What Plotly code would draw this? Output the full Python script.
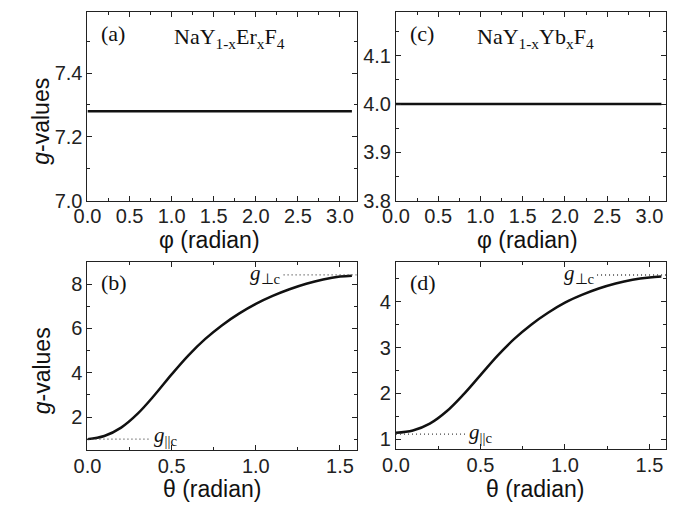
import plotly.graph_objects as go
from plotly.subplots import make_subplots

# ---------------- data ----------------
phi_a = [0.0, 0.5, 1.0, 1.5, 2.0, 2.5, 3.0, 3.1416]
g_a = [7.28, 7.28, 7.28, 7.28, 7.28, 7.28, 7.28, 7.28]

phi_c = [0.0, 0.5, 1.0, 1.5, 2.0, 2.5, 3.0, 3.1416]
g_c = [4.00, 4.00, 4.00, 4.00, 4.00, 4.00, 4.00, 4.00]

theta = [0.0, 0.1, 0.2, 0.3, 0.4, 0.5, 0.6, 0.7, 0.8, 0.9, 1.0, 1.1, 1.2, 1.3, 1.4, 1.5, 1.5708]
g_b = [1.01, 1.15, 1.53, 2.17, 3.01, 3.93, 4.79, 5.53, 6.15, 6.67, 7.11, 7.47, 7.77, 8.02, 8.21, 8.34, 8.38]
g_d = [1.14, 1.19, 1.34, 1.61, 1.98, 2.40, 2.82, 3.19, 3.50, 3.76, 3.98, 4.15, 4.29, 4.40, 4.48, 4.53, 4.55]

# reference (dotted) levels: [x_start, x_end], value
b_par_x = [0.0, 0.375]
b_par_y = [1.01, 1.01]
b_perp_x = [1.165, 1.6]
b_perp_y = [8.42, 8.42]
d_par_x = [0.0, 0.413]
d_par_y = [1.11, 1.11]
d_perp_x = [1.19, 1.6]
d_perp_y = [4.585, 4.585]

W, H = 682, 513
def px(x):
    return x / W
def py(y):
    return 1 - y / H

fig = make_subplots(rows=2, cols=2)

LC = "#111111"
fig.add_trace(go.Scatter(x=phi_a, y=g_a, mode="lines", line=dict(color=LC, width=2.5), showlegend=False), row=1, col=1)
fig.add_trace(go.Scatter(x=phi_c, y=g_c, mode="lines", line=dict(color=LC, width=2.5), showlegend=False), row=1, col=2)
fig.add_trace(go.Scatter(x=theta, y=g_b, mode="lines", line=dict(color=LC, width=2.5, shape="spline", smoothing=1.0), showlegend=False), row=2, col=1)
fig.add_trace(go.Scatter(x=theta, y=g_d, mode="lines", line=dict(color=LC, width=2.5, shape="spline", smoothing=1.0), showlegend=False), row=2, col=2)

DOT = dict(color="#444444", width=1.3, dash="1px,3px")
fig.add_trace(go.Scatter(x=b_par_x, y=b_par_y, mode="lines", line=DOT, showlegend=False), row=2, col=1)
fig.add_trace(go.Scatter(x=b_perp_x, y=b_perp_y, mode="lines", line=DOT, showlegend=False), row=2, col=1)
fig.add_trace(go.Scatter(x=d_par_x, y=d_par_y, mode="lines", line=DOT, showlegend=False), row=2, col=2)
fig.add_trace(go.Scatter(x=d_perp_x, y=d_perp_y, mode="lines", line=DOT, showlegend=False), row=2, col=2)

AX = "#222222"
def axstyle(rng, dtick, mdtick, fmt, tick0=0, standoff=0):
    return dict(range=rng, dtick=dtick, tick0=tick0, showline=True, linecolor=AX, linewidth=1,
                mirror="allticks", ticks="inside", ticklen=5, tickwidth=1, tickcolor=AX,
                showgrid=False, zeroline=False, tickformat=fmt, ticklabelstandoff=standoff,
                tickfont=dict(family="Liberation Sans", size=20, color="#222"),
                minor=dict(ticks="inside", ticklen=3, tickwidth=1, tickcolor=AX, dtick=mdtick, tick0=tick0, showgrid=False))

xl = [px(75), px(350)]
xr = [px(390), px(666)]
yt = [py(205), py(12.7)]
yb = [py(460.3), py(267.7)]
ybd = [py(458.7), py(267.7)]

fig.update_layout(
    xaxis=dict(domain=xl, **axstyle([0, 3.2], 0.5, 0.25, ".1f", standoff=-3)),
    yaxis=dict(domain=yt, **axstyle([7.0, 7.59], 0.2, 0.1, ".1f")),
    xaxis2=dict(domain=xr, **axstyle([0, 3.2], 0.5, 0.25, ".1f", standoff=-3)),
    yaxis2=dict(domain=yt, **axstyle([3.8, 4.19], 0.1, 0.05, ".1f", 3.8)),
    xaxis3=dict(domain=xl, **axstyle([0, 1.6], 0.5, 0.25, ".1f", standoff=-2)),
    yaxis3=dict(domain=yb, **axstyle([0.5, 9.0], 2, 1, "d")),
    xaxis4=dict(domain=xr, **axstyle([0, 1.6], 0.5, 0.25, ".1f", standoff=-2)),
    yaxis4=dict(domain=ybd, **axstyle([0.79, 4.87], 1, 0.5, "d")),
)

ann = []
TF = dict(family="Liberation Serif", size=22, color="#111")
SF = dict(family="Liberation Sans", size=23, color="#111")
# panel labels
for lab, x, y in [("(a)", 87, 34), ("(c)", 402, 34), ("(b)", 87, 289), ("(d)", 402, 289)]:
    ann.append(dict(text=lab, x=px(x), y=py(y), xref="paper", yref="paper", xanchor="left", yanchor="middle",
                    showarrow=False, font=TF))
ann.append(dict(text="NaY<sub>1-x</sub>Er<sub>x</sub>F<sub>4</sub>", x=px(161), y=py(39), xref="paper", yref="paper",
                xanchor="left", yanchor="middle", showarrow=False, font=TF))
ann.append(dict(text="NaY<sub>1-x</sub>Yb<sub>x</sub>F<sub>4</sub>", x=px(471), y=py(39), xref="paper", yref="paper",
                xanchor="left", yanchor="middle", showarrow=False, font=TF))
# axis titles
for t, x, y in [("φ (radian)", 200, 245), ("φ (radian)", 524, 245), ("θ (radian)", 202.5, 500), ("θ (radian)", 531.5, 500)]:
    ann.append(dict(text=t, x=px(x), y=py(y), xref="paper", yref="paper", xanchor="center", yanchor="middle",
                    showarrow=False, font=SF))
for y in [124, 379]:
    ann.append(dict(text="<i>g</i>-values", x=px(28), y=py(y), xref="paper", yref="paper", xanchor="center",
                    yanchor="middle", textangle=-90, showarrow=False, font=SF))
# g labels
GF = dict(family="Liberation Serif", size=21, color="#111")
ann.append(dict(text="<i>g</i><sub>⊥c</sub>", x=1.163, y=8.45, xref="x3", yref="y3", xanchor="right", yanchor="middle", showarrow=False, font=GF))
ann.append(dict(text="<i>g</i><sub>||c</sub>", x=0.383, y=1.15, xref="x3", yref="y3", xanchor="left", yanchor="middle", showarrow=False, font=GF))
ann.append(dict(text="<i>g</i><sub>⊥c</sub>", x=1.187, y=4.60, xref="x4", yref="y4", xanchor="right", yanchor="middle", showarrow=False, font=GF))
ann.append(dict(text="<i>g</i><sub>||c</sub>", x=0.42, y=1.13, xref="x4", yref="y4", xanchor="left", yanchor="middle", showarrow=False, font=GF))

fig.update_layout(annotations=ann, width=W, height=H, margin=dict(l=0, r=0, t=0, b=0),
                  paper_bgcolor="white", plot_bgcolor="white", showlegend=False)

fig.write_html("out.html", post_script="document.body.style.margin='0';document.body.style.padding='0';")
